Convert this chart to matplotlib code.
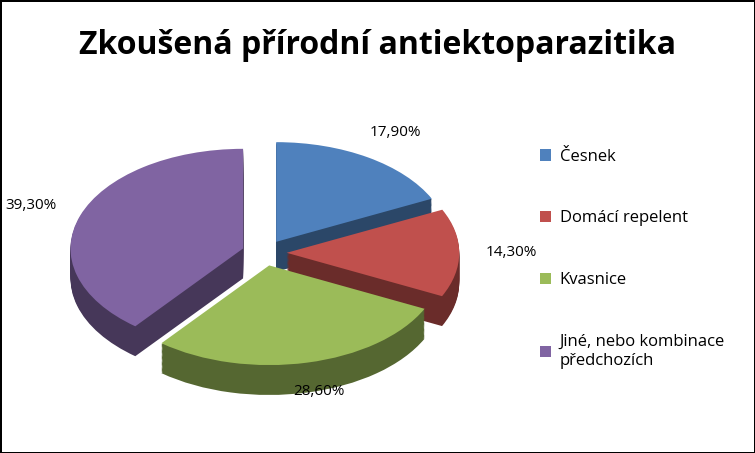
import matplotlib
matplotlib.use("Agg")
import matplotlib.pyplot as plt
from matplotlib.patches import Patch
import matplotlib.colors as mcolors

labels = ["Česnek", "Domácí repelent", "Kvasnice", "Jiné, nebo kombinace\npředchozích"]
values = [17.9, 14.3, 28.6, 39.3]
pct_labels = ["17,90%", "14,30%", "28,60%", "39,30%"]
colors = ["#4F81BD", "#C0504D", "#9BBB59", "#8064A2"]

plt.rcParams["font.family"] = ["Open Sans", "DejaVu Sans"]

fig = plt.figure(figsize=(7.55, 4.53), dpi=100)
fig.patch.set_edgecolor("black")
fig.patch.set_linewidth(2)

fig.text(0.5, 0.9, "Zkoušená přírodní antiektoparazitika", ha="center", va="center",
         fontsize=23, fontweight="bold")

ax = fig.add_axes([0.03, 0.09, 0.64, 0.66])
explode = [0.13] * 4
dark = [tuple(c * 0.55 for c in mcolors.to_rgb(col)) for col in colors]

depth = 0.3
steps = 25
for i in range(steps, 0, -1):
    d = depth * i / steps
    ax.pie(values, colors=dark, startangle=90, counterclock=False, explode=explode,
           center=(0, -d), wedgeprops=dict(linewidth=0))

wedges, texts = ax.pie(values, colors=colors, startangle=90, counterclock=False,
                       explode=explode, labels=pct_labels, labeldistance=1.3,
                       textprops=dict(fontsize=11, ha="center"), wedgeprops=dict(linewidth=0))
ax.set_aspect("auto")
ax.set_xlim(-1.4, 1.4)
ax.set_ylim(-1.6, 1.4)

handles = [Patch(facecolor=c, label=l) for c, l in zip(colors, labels)]
fig.legend(handles=handles, loc="upper left", bbox_to_anchor=(0.695, 0.705), frameon=False,
           fontsize=12, labelspacing=2.75, handlelength=0.7, handleheight=0.7, handletextpad=0.5)

fig.savefig("out.png", dpi=100)
